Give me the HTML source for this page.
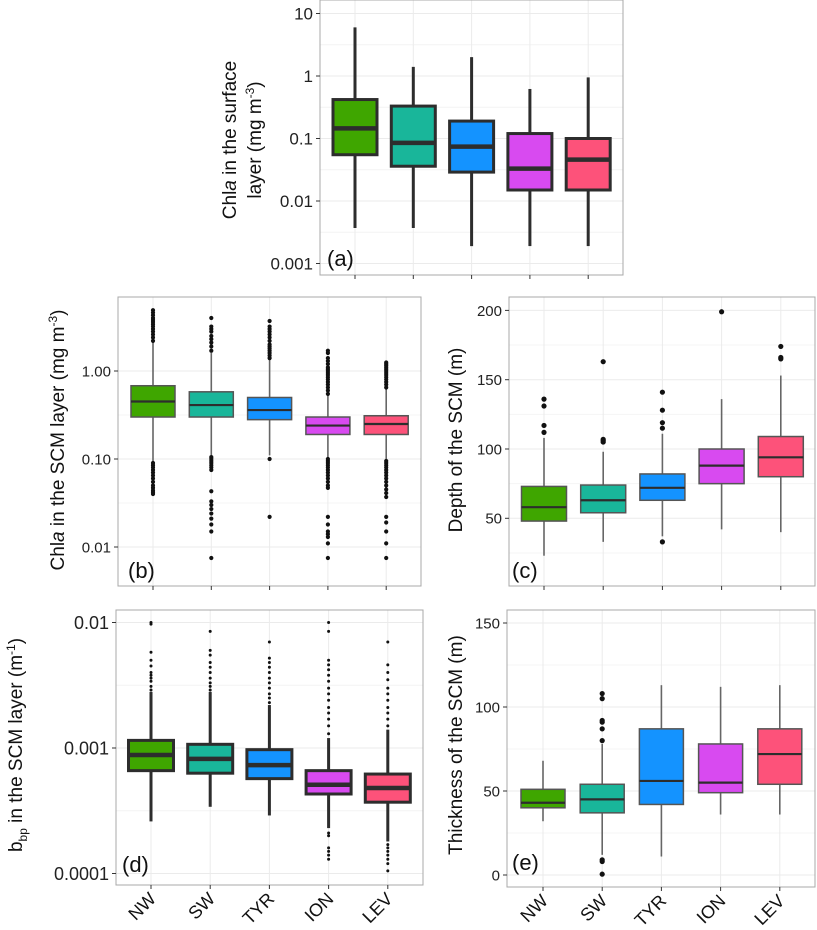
<!DOCTYPE html>
<html><head><meta charset="utf-8">
<style>
html,body{margin:0;padding:0;background:#fff;}
svg{display:block;font-family:"Liberation Sans",Arial,sans-serif;}
</style></head>
<body>
<svg id="fig" width="817" height="930" viewBox="0 0 817 930" xmlns="http://www.w3.org/2000/svg"></svg>
<script>
const categories=["NW","SW","TYR","ION","LEV"];
const colors=["#3fa600","#19b69a","#1493ff","#d84af0","#fd527a"];
// Panel a: [lowWhisker,q1,median,q3,highWhisker]
const aStats=[[0.0037,0.055,0.145,0.42,6],[0.0037,0.036,0.085,0.33,1.4],[0.0019,0.029,0.074,0.19,2.0],[0.0019,0.015,0.033,0.12,0.62],[0.0019,0.015,0.046,0.1,0.95]];
const aOut=[[],[],[],[],[]];
const aTicks=[10,1,0.1,0.01,0.001];
const aTickLabels=["10","1","0.1","0.01","0.001"];
// Panel b
const bStats=[[0.095,0.30,0.45,0.68,2.1],[0.11,0.30,0.41,0.58,1.6],[0.11,0.28,0.36,0.50,1.35],[0.10,0.19,0.24,0.30,0.55],[0.095,0.19,0.25,0.31,0.65]];
const bOut=[
 [2.2,2.4,2.6,2.8,3.0,3.2,3.4,3.6,3.8,4.0,4.3,4.6,4.9,0.09,0.085,0.08,0.075,0.07,0.065,0.06,0.055,0.05,0.047,0.044,0.042,0.04],
 [1.7,1.9,2.1,2.3,2.5,2.8,3.0,3.2,4.0,0.105,0.1,0.095,0.09,0.085,0.08,0.075,0.043,0.033,0.03,0.027,0.024,0.021,0.018,0.015,0.0075],
 [1.4,1.5,1.6,1.7,1.8,1.9,2.0,2.2,2.4,2.6,2.8,3.0,3.2,3.7,0.1,0.022],
 [0.55,0.6,0.65,0.7,0.75,0.8,0.85,0.9,0.95,1.0,1.05,1.1,1.2,1.3,1.4,1.6,1.7,0.1,0.095,0.09,0.085,0.08,0.075,0.07,0.065,0.06,0.055,0.05,0.047,0.022,0.018,0.015,0.014,0.013,0.011,0.0075],
 [0.65,0.7,0.75,0.8,0.85,0.9,0.95,1.0,1.05,1.1,1.15,1.2,1.25,0.095,0.09,0.085,0.08,0.075,0.07,0.065,0.06,0.055,0.05,0.045,0.041,0.037,0.022,0.019,0.015,0.011,0.0075]];
const bTicks=[1,0.1,0.01];
const bTickLabels=["1.00","0.10","0.01"];
// Panel c
const cStats=[[23,48,58,73,108],[33,54,63,74,98],[37,63,72,82,111],[42,75,88,100,136],[40,80,94,109,153]];
const cOut=[[112,117,131,136],[105,106,107,163],[33,115,119,128,141],[199],[165,166,174]];
const cTicks=[200,150,100,50];
const cTickLabels=["200","150","100","50"];
// Panel d
const dStats=[[0.00026,0.00066,0.00088,0.00115,0.0028],[0.00034,0.00063,0.00082,0.00107,0.0028],[0.00029,0.00057,0.00073,0.00097,0.0022],[0.00023,0.00043,0.00051,0.00066,0.0012],[0.00018,0.00037,0.00048,0.00062,0.0014]];
const dOut=[
 [0.0029,0.0031,0.0034,0.0036,0.0038,0.004,0.0045,0.005,0.0058,0.0097,0.01],
 [0.0029,0.0031,0.0033,0.0036,0.004,0.0044,0.0048,0.0055,0.006,0.0085],
 [0.0023,0.0025,0.0027,0.003,0.0033,0.0036,0.004,0.0044,0.0048,0.0052,0.007],
 [0.0013,0.0015,0.0017,0.0019,0.0021,0.0024,0.0027,0.003,0.0034,0.0038,0.0042,0.0046,0.005,0.0085,0.01,0.00021,0.0002,0.00016,0.00015,0.00014,0.00013],
 [0.0015,0.0017,0.0019,0.0021,0.0024,0.0027,0.003,0.0035,0.004,0.0046,0.007,0.00017,0.00016,0.00015,0.00014,0.00013,0.00012,0.000105]];
const dTicks=[0.01,0.001,0.0001];
const dTickLabels=["0.01","0.001","0.0001"];
// Panel e
const eStats=[[32,40,43,51,68],[12,37,45,54,78],[11,42,56,87,113],[36,49,55,78,112],[36,54,72,87,113]];
const eOut=[[],[0.5,8,9,80,87,91,92,105,108],[],[],[]];
const eTicks=[150,100,50,0];
const eTickLabels=["150","100","50","0"];

const NS="http://www.w3.org/2000/svg";
const svg=document.getElementById('fig');
function mk(tag,attrs,parent){const e=document.createElementNS(NS,tag);for(const k in attrs)e.setAttribute(k,attrs[k]);(parent||svg).appendChild(e);return e;}

function panel(cfg){
  const g=mk('g',{});
  
  
  const {x0,x1,y0,y1}=cfg;
  const yScale=cfg.log?
    (v)=>cfg.refY-(Math.log10(v)-Math.log10(cfg.refV))*cfg.pxPer:
    (v)=>cfg.refY-(v-cfg.refV)*cfg.pxPer;
  const xScale=(i)=>cfg.cx0+i*cfg.dx;
  mk('rect',{x:x0,y:y0,width:x1-x0,height:y1-y0,fill:'#fff'},g);
  const gridG=mk('g',{},g);
  
  
  for(let i=0;i<cfg.ticks.length;i++){
    const y=yScale(cfg.ticks[i]);
    if(y>y0&&y<y1) mk('line',{x1:x0,x2:x1,y1:y,y2:y,stroke:'#ebebeb','stroke-width':1},gridG);
    const nv=cfg.log?Math.sqrt(cfg.ticks[i]*(i<cfg.ticks.length-1?cfg.ticks[i+1]:cfg.ticks[i]/10)):(cfg.ticks[i]-(cfg.ticks[0]-cfg.ticks[1])/2);
    const ny=yScale(nv);
    if(ny>y0&&ny<y1) mk('line',{x1:x0,x2:x1,y1:ny,y2:ny,stroke:'#f4f4f4','stroke-width':1},gridG);
  }
  if(cfg.extraMinor){const ny=yScale(cfg.extraMinor);if(ny>y0&&ny<y1)mk('line',{x1:x0,x2:x1,y1:ny,y2:ny,stroke:'#f4f4f4','stroke-width':1},gridG);}
  for(let i=0;i<categories.length;i++){
    const x=xScale(i);
    mk('line',{x1:x,x2:x,y1:y0,y2:y1,stroke:'#ebebeb','stroke-width':1},gridG);
  }
  const br=mk('rect',{x:x0,y:y0,width:x1-x0,height:y1-y0,fill:'none',stroke:'#a8a8a8','stroke-width':1},g);
  
  
  for(let i=0;i<cfg.ticks.length;i++){
    const y=yScale(cfg.ticks[i]);
    mk('line',{x1:x0-4,x2:x0,y1:y,y2:y,stroke:'#333','stroke-width':1},g);
    const t=mk('text',{x:x0-7,y:y+cfg.tickFs*0.36,'text-anchor':'end','font-size':cfg.tickFs,fill:'#222'},g);
    t.textContent=cfg.tickLabels[i];
    
    
  }
  const sw=cfg.thick?3:1.5;
  const ec=cfg.thick?'#2d2d2d':'#555';
  for(let i=0;i<categories.length;i++){
    const x=xScale(i);
    mk('line',{x1:x,x2:x,y1:y1,y2:y1+4,stroke:'#333','stroke-width':1},g);
    const s=cfg.stats[i];
    const bg=mk('g',{},g);
    
    
    mk('line',{x1:x,x2:x,y1:yScale(s[0]),y2:yScale(s[1]),stroke:cfg.thick?'#2d2d2d':'#666','stroke-width':cfg.thick?3:1.6},bg);
    mk('line',{x1:x,x2:x,y1:yScale(s[3]),y2:yScale(s[4]),stroke:cfg.thick?'#2d2d2d':'#666','stroke-width':cfg.thick?3:1.6},bg);
    const bw=cfg.bw;
    mk('rect',{x:x-bw/2,y:yScale(s[3]),width:bw,height:yScale(s[1])-yScale(s[3]),fill:colors[i],stroke:ec,'stroke-width':sw},bg);
    mk('line',{x1:x-bw/2,x2:x+bw/2,y1:yScale(s[2]),y2:yScale(s[2]),stroke:'#2d2d2d','stroke-width':cfg.thick?4.5:2.2},bg);
    for(const v of cfg.out[i]){
      const c=mk('circle',{cx:x,cy:yScale(v),r:cfg.r,fill:'#111'},bg);
      
      
    }
  }
  const L=mk('text',{x:cfg.lx,y:cfg.ly,'font-size':22,fill:'#111'},g);
  L.textContent='('+cfg.id+')';
  
  
  if(cfg.xlabels){
    for(let i=0;i<categories.length;i++){
      const x=xScale(i);
      const t=mk('text',{x:x+6,y:y1+15,'text-anchor':'end','font-size':18,fill:'#111',transform:`rotate(-45 ${x+6} ${y1+15})`},g);
      t.textContent=categories[i];
      
      
    }
  }
  return g;
}

panel({id:'a',x0:320,x1:623,y0:0,y1:275,log:true,refY:76,refV:1,pxPer:62.5,cx0:355,dx:58.3,bw:44,stats:aStats,out:aOut,ticks:aTicks,tickLabels:aTickLabels,tickFs:17,thick:true,r:0,lx:327,ly:266});
panel({id:'b',x0:118,x1:421,y0:297,y1:586,log:true,refY:371,refV:1,pxPer:88,cx0:153,dx:58.3,bw:44,stats:bStats,out:bOut,ticks:bTicks,tickLabels:bTickLabels,tickFs:15,thick:false,r:2.1,lx:128,ly:578,extraMinor:0.0032});
panel({id:'c',x0:509,x1:815,y0:297,y1:586,log:false,refY:449,refV:100,pxPer:1.386,cx0:544,dx:59.2,bw:45,stats:cStats,out:cOut,ticks:cTicks,tickLabels:cTickLabels,tickFs:15,thick:false,r:2.6,lx:512,ly:578});
panel({id:'d',x0:116,x1:423,y0:610,y1:885,log:true,refY:748,refV:0.001,pxPer:125.5,cx0:151,dx:59.2,bw:45,stats:dStats,out:dOut,ticks:dTicks,tickLabels:dTickLabels,tickFs:18,thick:true,r:1.5,lx:122,ly:872,xlabels:true});
panel({id:'e',x0:507,x1:815,y0:610,y1:887,log:false,refY:791,refV:50,pxPer:1.68,cx0:543,dx:59.2,bw:44,stats:eStats,out:eOut,ticks:eTicks,tickLabels:eTickLabels,tickFs:15,thick:false,r:2.6,lx:512,ly:870,xlabels:true});

function ytitle(name,x,y,html,fs){
  const t=mk('text',{x:x,y:y,'text-anchor':'middle','font-size':fs,fill:'#111',transform:`rotate(-90 ${x} ${y})`});
  t.innerHTML=html;
  
  
}
ytitle('y-axis-title-a-line1',236,140,'Chl<tspan font-style="italic">a</tspan> in the surface',19);
ytitle('y-axis-title-a-line2',261,140,'layer (mg m<tspan dy="-7" font-size="12">-3</tspan><tspan dy="7">)</tspan>',19);
ytitle('y-axis-title-b',64,440,'Chl<tspan font-style="italic">a</tspan> in the SCM layer (mg m<tspan dy="-7" font-size="12">-3</tspan><tspan dy="7">)</tspan>',19);
ytitle('y-axis-title-c',462,440,'Depth of the SCM (m)',19);
ytitle('y-axis-title-d',22,745,'b<tspan dy="5" font-size="12">bp</tspan><tspan dy="-5"> in the SCM layer (m</tspan><tspan dy="-7" font-size="12">-1</tspan><tspan dy="7">)</tspan>',19);
ytitle('y-axis-title-e',462,745,'Thickness of the SCM (m)',19);
</script>
</body></html>
